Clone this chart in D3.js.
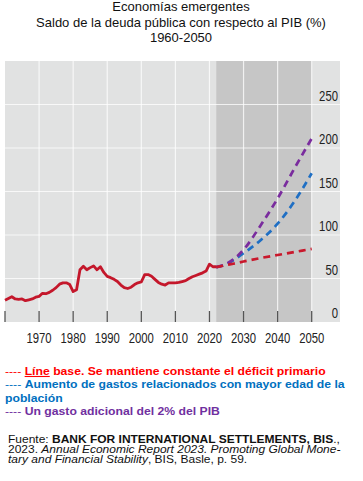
<!DOCTYPE html>
<html lang="es">
  <head>
    <meta charset="utf-8">
    <title>Deuda pública economías emergentes</title>
    <script src="https://d3js.org/d3.v7.js"></script>
    <style>
      body { margin: 0; background: white; }
      text { font-family: "Liberation Sans", Arial, sans-serif; }
      .axis text { font-size: 14.5px; fill: #222; }
    </style>
  </head>

  <body>
    <script>

      // data
      const histYears = d3.range(1960, 2023);
      const histValues = [25, 27, 29, 26.5, 26, 26.5, 24.5, 25.5, 26.5, 28.5,
                          29.5, 33, 32.5, 34, 36.5, 39.5, 43.5, 45, 45, 43,
                          35, 37, 60, 64, 60, 62.5, 64.5, 60, 63.5, 57,
                          52.5, 51, 49, 46.5, 42.5, 39.5, 38.5, 40, 43, 45,
                          46, 54.5, 54.5, 52.5, 49, 45.5, 43.5, 42.5, 45, 45,
                          45, 45.5, 46.5, 47.5, 50, 52, 53.5, 55, 56.5, 58.5,
                          66.5, 63.5, 63.5];

      const projYears  = [2022, 2025, 2027, 2030, 2035, 2040, 2045, 2050];
      const baseline   = [63, 65.5, 67, 69.5, 73.5, 77, 80.5, 84];
      const ageing     = [63, 66.5, 71, 79, 94, 113, 139, 171];
      const extraSpend = [63, 67, 72, 83, 111, 142, 177, 211];

      const xTicks = [1960, 1970, 1980, 1990, 2000, 2010, 2020, 2030, 2040, 2050];
      const xLabels = ["1970", "1980", "1990", "2000", "2010", "2020", "2030", "2040", "2050"];
      const yTicks = [0, 50, 100, 150, 200, 250];
      const shadeRange = [2022, 2050];

      const titleLines = ["Economías emergentes",
                          "Saldo de la deuda pública con respecto al PIB (%)",
                          "1960-2050"];

      const w = 363;
      const h = 481;
      const panel = {left: 5, right: 340, top: 61, bottom: 322};

      const xScale = d3.scaleLinear()
                       .domain([1960, 2050])
                       .range([panel.left, 311.7]);

      const yScale = d3.scaleLinear()
                       .domain([0, 300])
                       .range([panel.bottom, panel.top]);

      const svg = d3.select("body")
                    .append("svg")
                    .attr("width", w)
                    .attr("height", h);

      svg.append("rect")
         .attr("width", w)
         .attr("height", h)
         .attr("fill", "white");

      // title
      svg.append("g")
         .selectAll("text")
         .data(titleLines)
         .enter().append("text")
         .attr("x", 181)
         .attr("y", (d, i) => 11 + i * 15.5)
         .attr("text-anchor", "middle")
         .attr("font-size", 13)
         .attr("fill", "#111")
         .text(d => d);

      // panel background
      svg.append("rect")
         .attr("x", panel.left)
         .attr("y", panel.top)
         .attr("width", panel.right - panel.left)
         .attr("height", panel.bottom - panel.top)
         .attr("fill", "#e1e2e2");

      // projection shading
      svg.append("rect")
         .attr("x", xScale(shadeRange[0]))
         .attr("y", panel.top)
         .attr("width", xScale(shadeRange[1]) - xScale(shadeRange[0]))
         .attr("height", panel.bottom - panel.top)
         .attr("fill", "#c6c6c6");

      // gridlines
      const grid = svg.append("g");

      grid.selectAll(".hgrid")
          .data(yTicks.filter(d => d > 0))
          .enter().append("line")
          .attr("x1", panel.left)
          .attr("x2", panel.right)
          .attr("y1", d => yScale(d))
          .attr("y2", d => yScale(d))
          .attr("stroke", "white")
          .attr("stroke-opacity", 0.75)
          .attr("stroke-width", 1.2);

      grid.selectAll(".vgrid")
          .data(xTicks.filter(d => d > 1960))
          .enter().append("line")
          .attr("x1", d => xScale(d))
          .attr("x2", d => xScale(d))
          .attr("y1", panel.top)
          .attr("y2", panel.bottom)
          .attr("stroke", "white")
          .attr("stroke-opacity", 0.75)
          .attr("stroke-width", 1.2);

      // bottom ticks
      svg.append("g")
         .selectAll("line")
         .data(xTicks)
         .enter().append("line")
         .attr("x1", d => xScale(d))
         .attr("x2", d => xScale(d))
         .attr("y1", panel.bottom - 11)
         .attr("y2", panel.bottom)
         .attr("stroke", "#555")
         .attr("stroke-width", 1.3);

      // axis labels (condensed look via horizontal squeeze)
      const axes = svg.append("g").attr("class", "axis");
      const squeeze = 0.78;

      axes.selectAll(".xl")
          .data(xLabels)
          .enter().append("text")
          .attr("transform", d => `translate(${xScale(+d)}, 343) scale(${squeeze}, 1)`)
          .attr("text-anchor", "middle")
          .text(d => d);

      axes.selectAll(".yl")
          .data(yTicks)
          .enter().append("text")
          .attr("transform", d => `translate(338, ${yScale(d) - 4}) scale(${squeeze}, 1)`)
          .attr("text-anchor", "end")
          .text(d => d);

      // lines
      const line = d3.line()
                     .x(d => xScale(d[0]))
                     .y(d => yScale(d[1]))
                     .curve(d3.curveMonotoneX);

      const series = [
        {values: ageing, color: "#1f6fc4"},
        {values: extraSpend, color: "#7a2c9e"},
        {values: baseline, color: "#c9182c"}
      ];

      svg.append("g")
         .selectAll("path")
         .data(series)
         .enter().append("path")
         .attr("d", s => line(projYears.map((y, i) => [y, s.values[i]])))
         .attr("fill", "none")
         .attr("stroke", s => s.color)
         .attr("stroke-width", 2.7)
         .attr("stroke-dasharray", "7,5");

      svg.append("path")
         .attr("d", d3.line()
                      .x(d => xScale(d[0]))
                      .y(d => yScale(d[1]))(histYears.map((y, i) => [y, histValues[i]])))
         .attr("fill", "none")
         .attr("stroke", "#c4172b")
         .attr("stroke-width", 2.8)
         .attr("stroke-linejoin", "round");

      // legend (text in the picture is a little stretched sideways)
      const legend = svg.append("g")
                        .attr("transform", "translate(5, 0) scale(1.11, 1)")
                        .attr("font-size", 11)
                        .attr("font-weight", "bold");

      const l1 = legend.append("text").attr("y", 375).attr("fill", "#ff0000");
      l1.append("tspan").attr("font-weight", "normal").text("---- ");
      l1.append("tspan").style("text-decoration", "underline wavy #ff0000").text("Líne");
      l1.append("tspan").text(" base. Se mantiene constante el déficit primario");

      const l2 = legend.append("text").attr("y", 388.5).attr("fill", "#0070c0");
      l2.append("tspan").attr("font-weight", "normal").text("---- ");
      l2.append("tspan").text("Aumento de gastos relacionados con mayor edad de la");
      legend.append("text").attr("y", 402).attr("fill", "#0070c0").text("población");

      const l3 = legend.append("text").attr("y", 415.5).attr("fill", "#7030a0");
      l3.append("tspan").attr("font-weight", "normal").text("---- ");
      l3.append("tspan").text("Un gasto adicional del 2% del PIB");

      // source
      const src = svg.append("g")
                     .attr("transform", "translate(8, 0) scale(1.2, 1)")
                     .attr("font-size", 10)
                     .attr("fill", "#111");

      const s1 = src.append("text").attr("y", 443.5);
      s1.append("tspan").text("Fuente: ");
      s1.append("tspan").attr("font-weight", "bold").text("BANK FOR INTERNATIONAL SETTLEMENTS, BIS");
      s1.append("tspan").text(".,");

      const s2 = src.append("text").attr("y", 453.5);
      s2.append("tspan").text("2023. ");
      s2.append("tspan").attr("font-style", "italic").text("Annual Economic Report 2023. Promoting Global Mone-");

      const s3 = src.append("text").attr("y", 463.5);
      s3.append("tspan").attr("font-style", "italic").text("tary and Financial Stability");
      s3.append("tspan").text(", BIS, Basle, p. 59.");

    </script>
  </body>
</html>
